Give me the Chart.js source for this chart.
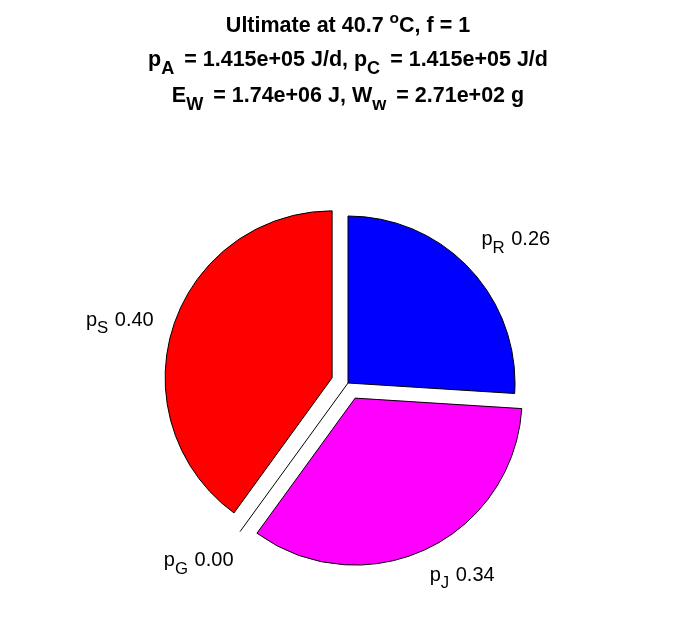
<!doctype html>
<html>

<head>
	<title>Ultimate pie</title>
	<script src="https://cdn.jsdelivr.net/npm/chart.js@4/dist/chart.umd.min.js"></script>
	<style>
	body {
		margin: 0;
		background: #fff;
	}
	</style>
</head>

<body>
	<canvas id="chart" width="696" height="618"></canvas>
	<script>
		// flux fractions, clockwise from 12 o'clock
		var fluxNames = ['R', 'J', 'G', 'S'];
		var fluxFractions = [0.26, 0.34, 0.00, 0.40];
		var sliceColors = ['#0000ff', '#ff00ff', '#00ff00', '#ff0000'];
		var exploded = [false, true, true, true];

		// title lines: [text, 'sub' | 'sup' | undefined]
		var titleLines = [
			[['Ultimate at 40.7 '], ['o', 'sup'], ['C, f = 1']],
			[['p'], ['A', 'sub'], [' = 1.415e+05 J/d, p'], ['C', 'sub'], [' = 1.415e+05 J/d']],
			[['E'], ['W', 'sub'], [' = 1.74e+06 J, W'], ['w', 'sub'], [' = 2.71e+02 g']]
		];

		var FAMILY = '"Liberation Sans", Arial, Helvetica, sans-serif';

		function partFont(part, size, bold) {
			var s = part[1] === 'sub' ? size * 0.84 : (part[1] === 'sup' ? size * 0.72 : size);
			return (bold ? 'bold ' : '') + s.toFixed(1) + 'px ' + FAMILY;
		}

		function partWidth(ctx, part, size, bold, gap) {
			ctx.font = partFont(part, size, bold);
			return ctx.measureText(part[0]).width + (part[1] === 'sub' ? gap : 0);
		}

		// draws a line of text with sub/superscripts centred on x
		function drawRich(ctx, parts, x, y, size, bold, gap) {
			var w = 0;
			parts.forEach(function(p) {
				w += partWidth(ctx, p, size, bold, gap);
			});
			var cx = x - w / 2;
			ctx.textAlign = 'left';
			ctx.textBaseline = 'alphabetic';
			parts.forEach(function(p) {
				ctx.font = partFont(p, size, bold);
				var dy = p[1] === 'sub' ? size * 0.38 : (p[1] === 'sup' ? -size * 0.42 : 0);
				ctx.fillText(p[0], cx, y + dy);
				cx += partWidth(ctx, p, size, bold, gap);
			});
		}

		var explodedPie = {
			id: 'explodedPie',
			beforeDatasetDraw: function(chart, args) {
				var ctx = chart.ctx;
				args.meta.data.forEach(function(arc, i) {
					var p = arc.getProps(['x', 'y', 'startAngle', 'endAngle', 'outerRadius']);
					var mid = (p.startAngle + p.endAngle) / 2;
					var ux = Math.cos(mid), uy = Math.sin(mid);
					var off = exploded[i] ? 0.1 * p.outerRadius : 0;
					var cx = p.x + ux * off, cy = p.y + uy * off;
					ctx.save();
					ctx.lineWidth = 1;
					ctx.strokeStyle = '#000';
					ctx.fillStyle = arc.options.backgroundColor;
					ctx.beginPath();
					if (p.endAngle - p.startAngle <= 0) {
						ctx.moveTo(p.x, p.y);
						ctx.lineTo(p.x + ux * (p.outerRadius + off), p.y + uy * (p.outerRadius + off));
						ctx.stroke();
					} else {
						ctx.moveTo(cx, cy);
						ctx.arc(cx, cy, p.outerRadius, p.startAngle, p.endAngle);
						ctx.closePath();
						ctx.fill();
						ctx.stroke();
					}
					// slice label
					ctx.fillStyle = '#000';
					var lx = cx + ux * 1.2 * p.outerRadius + (ux < 0 ? -1 : 1) * 0.13 * p.outerRadius;
					var ly = cy + uy * 1.2 * p.outerRadius + 4 - 6 * ux;
					drawRich(ctx, [['p'], [fluxNames[i], 'sub'], [' ' + fluxFractions[i].toFixed(2)]], lx, ly, 20, false, 1);
					ctx.restore();
				});
				return false;
			},
			afterDraw: function(chart) {
				var ctx = chart.ctx;
				var baselines = [32, 66, 102];
				ctx.save();
				ctx.fillStyle = '#000';
				titleLines.forEach(function(line, k) {
					drawRich(ctx, line, chart.width / 2, baselines[k], 21.5, true, 4);
				});
				ctx.restore();
			}
		};

		new Chart(document.getElementById('chart').getContext('2d'), {
			type: 'pie',
			data: {
				labels: fluxNames.map(function(n) { return 'p' + n; }),
				datasets: [{
					data: fluxFractions,
					backgroundColor: sliceColors,
					borderColor: '#000',
					borderWidth: 1,
					radius: 167
				}]
			},
			options: {
				responsive: false,
				animation: false,
				layout: {
					padding: {top: 148, bottom: 0, left: 0, right: 0}
				},
				plugins: {
					legend: {display: false},
					title: {display: false},
					tooltip: {enabled: false}
				}
			},
			plugins: [explodedPie]
		});
	</script>
</body>

</html>
